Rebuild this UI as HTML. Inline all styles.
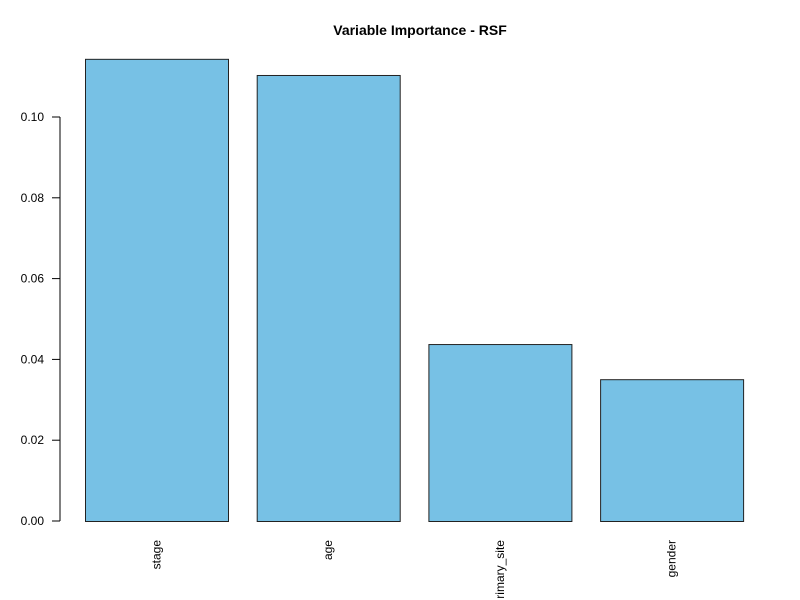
<!DOCTYPE html>
<html><head><meta charset="utf-8"><style>
body{margin:0;background:#fff;}
svg{display:block;font-family:"Liberation Sans",Arial,sans-serif;}
</style></head><body>
<svg width="800" height="600">
<text x="420" y="35" text-anchor="middle" font-weight="bold" font-size="14">Variable Importance - RSF</text>
<g id="axis"></g>
<g id="bars"></g>
<g id="labels"></g>
</svg>
<script>
const categories=["stage","age","rimary_site","gender"];
const values=[0.1144,0.1104,0.0438,0.0351];
const ticks=[0,0.02,0.04,0.06,0.08,0.10];
const tickLabels=["0.00","0.02","0.04","0.06","0.08","0.10"];
const NS="http://www.w3.org/2000/svg";
function y(v){return 521-v*4040;}
function xLeft(i){return 85+i*171.7;}
const bw=143;
function mk(t,a,p){const e=document.createElementNS(NS,t);for(const k in a)e.setAttribute(k,a[k]);p.appendChild(e);return e;}
const ax=document.getElementById('axis');
const l=mk('line',{x1:60,x2:60,y1:y(ticks[ticks.length-1]),y2:y(0),stroke:'#000'},ax);


ticks.forEach((t,i)=>{
 const tk=mk('line',{x1:52,x2:60,y1:y(t),y2:y(t),stroke:'#000'},ax);
 
 
 const tx=mk('text',{x:44,y:y(t)+4,'text-anchor':'end','font-size':12},ax);
 tx.textContent=tickLabels[i];
 
 
});
const bg=document.getElementById('bars'),lg=document.getElementById('labels');
values.forEach((v,i)=>{
 const r=mk('rect',{x:xLeft(i)+0.5,y:y(v)+0.5,width:bw,height:y(0)-y(v),fill:'#77c1e5',stroke:'#222','stroke-width':1},bg);
 
 
 const cx=xLeft(i)+bw/2+4;
 const t=mk('text',{x:cx,y:540,'text-anchor':'end','font-size':12,transform:`rotate(-90 ${cx} 540)`},lg);
 t.textContent=categories[i];
 
 
});
</script>
</body></html>
